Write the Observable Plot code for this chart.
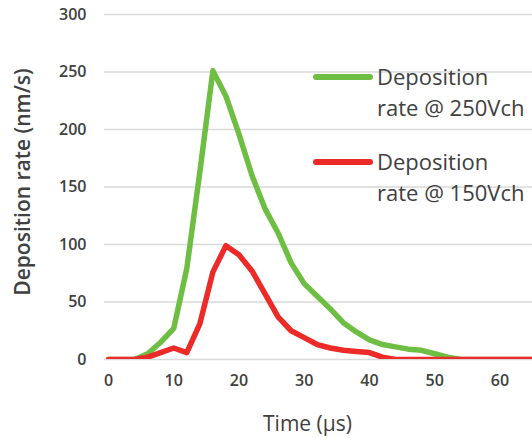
<!DOCTYPE html>
<html>
<head>
<meta charset="utf-8">
<script src="https://cdn.jsdelivr.net/npm/d3@7"></script>
<script src="https://cdn.jsdelivr.net/npm/@observablehq/plot@0.6"></script>
<style>
  html, body { margin: 0; padding: 0; background: #fff; }
  #wrap { position: relative; width: 532px; height: 438px; overflow: hidden; font-family: "Open Sans", sans-serif; }
  .leg { position: absolute; color: #404040; font-size: 22px; line-height: 31px; white-space: nowrap; }
  .sw { position: absolute; height: 6px; border-radius: 3px; }
</style>
</head>
<body>
<div id="wrap"></div>
<script>
const time = [0,2,4,6,8,10,12,14,16,18,20,22,24,26,28,30,32,34,36,38,40,42,44,46,48,50,52,54,56,58,60,62,64,66];
const rate250 = [0,0,0,5,15,27,79,163,251,229,196,160,131,110,84,66,55,44,32,24,17,13,11,9,8,5,2,0,0,0,0,0,0,0];
const rate150 = [0,0,0,2,6,10,6,31,76,99,91,77,57,37,25,19,13,10,8,7,6,2,0,0,0,0,0,0,0,0,0,0,0,0];
const seriesNames = ["Deposition rate @ 250Vch", "Deposition rate @ 150Vch"];
const seriesColors = ["#6fbe44", "#ec2a27"];
const yTicks = [0,50,100,150,200,250,300];
const xTicks = [0,10,20,30,40,50,60];
const xTitle = "Time (µs)";
const yTitle = "Deposition rate (nm/s)";

const d250 = time.map((t,i) => ({t, v: rate250[i]}));
const d150 = time.map((t,i) => ({t, v: rate150[i]}));

const chart = Plot.plot({
  width: 532,
  height: 438,
  marginLeft: 104,
  marginRight: 0,
  marginTop: 14,
  marginBottom: 79,
  style: { fontFamily: "Open Sans, sans-serif", background: "transparent" },
  x: { domain: [0, 65], insetLeft: 4 },
  y: { domain: [0, 300] },
  marks: [
    Plot.ruleY(yTicks, { stroke: "#d9d9d9", strokeWidth: 1.5 }),
    Plot.axisY(yTicks, { tickSize: 0, tickPadding: 18, fontSize: 16, fontWeight: 600, fill: "#404040", label: null }),
    Plot.axisX(xTicks, { tickSize: 0, tickPadding: 15, fontSize: 16, fontWeight: 600, fill: "#404040", label: null }),
    Plot.line(d250, { x: "t", y: "v", stroke: seriesColors[0], strokeWidth: 5.5, clip: true, strokeLinejoin: "round" }),
    Plot.line(d150, { x: "t", y: "v", stroke: seriesColors[1], strokeWidth: 5.5, clip: true, strokeLinejoin: "round" }),
    Plot.text([xTitle], { frameAnchor: "bottom", dx: -11, dy: 71, fontSize: 21, fill: "#404040" }),
    Plot.text([yTitle], { frameAnchor: "left", textAnchor: "middle", rotate: -90, dx: -81, dy: -5, fontSize: 21, fontWeight: 600, fill: "#404040" })
  ]
});

const wrap = document.getElementById("wrap");
wrap.appendChild(chart);

// legend
const legendTop = [61, 146];
seriesNames.forEach((name, i) => {
  const sw = document.createElement("div");
  sw.className = "sw";
  sw.style.left = "313px";
  sw.style.width = "60px";
  sw.style.top = (legendTop[i] + 13) + "px";
  sw.style.background = seriesColors[i];
  wrap.appendChild(sw);
  const tx = document.createElement("div");
  tx.className = "leg";
  tx.style.left = "377px";
  tx.style.top = legendTop[i] + "px";
  const parts = name.split(" rate");
  tx.innerHTML = parts[0] + "<br>rate" + parts[1];
  wrap.appendChild(tx);
});
</script>
</body>
</html>
